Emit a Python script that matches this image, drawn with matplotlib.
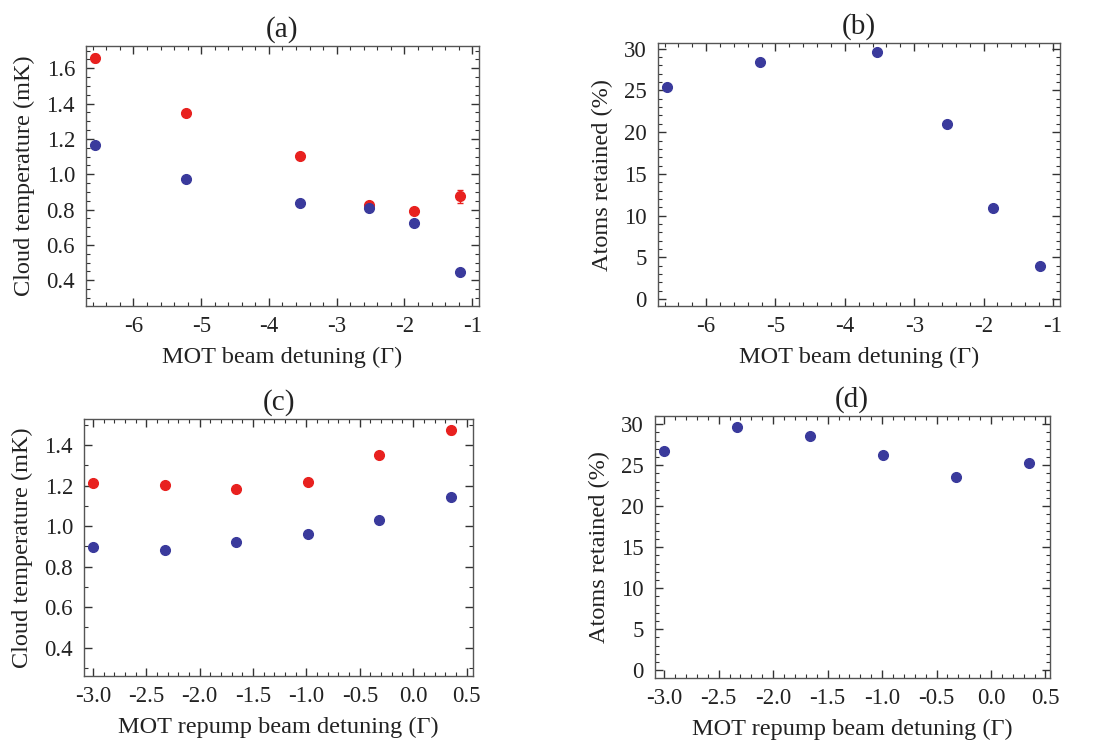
import numpy as np
import matplotlib
matplotlib.use("Agg")
from matplotlib import pyplot as plt
from matplotlib.ticker import MultipleLocator

plt.rcParams['font.family'] = ['Liberation Serif', 'DejaVu Serif']
plt.rcParams['axes.unicode_minus'] = False

# MOT beam detuning scan (a), (b)
det_mot = [-6.57, -5.22, -3.54, -2.53, -1.86, -1.18]
temp_red_a = [1.660, 1.348, 1.105, 0.827, 0.793, 0.874]
err_red_a = [0.022, 0.010, 0.008, 0.012, 0.008, 0.035]
temp_blue_a = [1.165, 0.971, 0.836, 0.808, 0.725, 0.449]
err_blue_a = [0.014, 0.008, 0.008, 0.010, 0.008, 0.014]
retained_b = [25.45, 28.4, 29.64, 20.98, 10.9, 3.98]

# MOT repump beam detuning scan (c), (d)
det_rep = [-3.0, -2.33, -1.66, -0.99, -0.32, 0.35]
temp_red_c = [1.212, 1.202, 1.184, 1.220, 1.351, 1.473]
err_red_c = [0.008, 0.008, 0.010, 0.008, 0.014, 0.018]
temp_blue_c = [0.897, 0.882, 0.922, 0.961, 1.032, 1.143]
err_blue_c = [0.006, 0.006, 0.006, 0.006, 0.008, 0.010]
retained_d = [26.7, 29.7, 28.6, 26.3, 23.6, 25.3]

red = '#e8211f'
blue = '#3a3a9c'
ms = 7

fig = plt.figure(figsize=(10.96, 7.43), dpi=100)
ax_a = fig.add_axes([0.0785, 0.588, 0.3585, 0.350])
ax_b = fig.add_axes([0.600, 0.588, 0.367, 0.354])
ax_c = fig.add_axes([0.0767, 0.0902, 0.355, 0.346])
ax_d = fig.add_axes([0.5976, 0.0875, 0.360, 0.3526])

fmt1 = plt.FuncFormatter(lambda v, p: f'{v:.1f}')


def style(ax, xmaj, xmin, ymaj, ymin):
    for s in ax.spines.values():
        s.set_color('#555555')
        s.set_linewidth(1.0)
    ax.xaxis.set_major_locator(MultipleLocator(xmaj))
    ax.xaxis.set_minor_locator(MultipleLocator(xmin))
    ax.yaxis.set_major_locator(MultipleLocator(ymaj))
    ax.yaxis.set_minor_locator(MultipleLocator(ymin))
    ax.tick_params(which='both', direction='in', top=True, right=True,
                   color='#333333', labelsize=16.5, labelcolor='#222222')
    ax.tick_params(axis='y', pad=8)
    ax.tick_params(axis='x', pad=7)
    ax.tick_params(which='major', length=6, width=1.0)
    ax.tick_params(which='minor', length=3, width=0.8)


def labels(ax, xl, yl, title):
    ax.set_xlabel(xl, fontsize=17.5, labelpad=7, color='#222222')
    ax.set_ylabel(yl, fontsize=17.5, labelpad=8, color='#222222')
    ax.set_title(title, fontsize=21, pad=7, color='#222222')


# (a)
ax_a.errorbar(det_mot, temp_red_a, yerr=err_red_a, fmt='o', color=red, ms=ms,
              elinewidth=1, capsize=2)
ax_a.errorbar(det_mot, temp_blue_a, yerr=err_blue_a, fmt='o', color=blue, ms=ms,
              elinewidth=1, capsize=2)
ax_a.set_xlim(-6.70, -0.90)
ax_a.set_ylim(0.253, 1.726)
style(ax_a, 1, 0.2, 0.2, 0.05)
ax_a.yaxis.set_major_formatter(fmt1)
labels(ax_a, 'MOT beam detuning (Γ)', 'Cloud temperature (mK)', '(a)')

# (b)
ax_b.plot(det_mot, retained_b, 'o', color=blue, ms=ms)
ax_b.set_xlim(-6.70, -0.90)
ax_b.set_ylim(-0.84, 30.67)
style(ax_b, 1, 0.2, 5, 1)
labels(ax_b, 'MOT beam detuning (Γ)', 'Atoms retained (%)', '(b)')

# (c)
ax_c.errorbar(det_rep, temp_red_c, yerr=err_red_c, fmt='o', color=red, ms=ms,
              elinewidth=1, capsize=2)
ax_c.errorbar(det_rep, temp_blue_c, yerr=err_blue_c, fmt='o', color=blue, ms=ms,
              elinewidth=1, capsize=2)
ax_c.set_xlim(-3.084, 0.562)
ax_c.set_ylim(0.26, 1.529)
style(ax_c, 0.5, 0.1, 0.2, 0.1)
ax_c.xaxis.set_major_formatter(fmt1)
ax_c.yaxis.set_major_formatter(fmt1)
labels(ax_c, 'MOT repump beam detuning (Γ)', 'Cloud temperature (mK)', '(c)')

# (d)
ax_d.plot(det_rep, retained_d, 'o', color=blue, ms=ms)
ax_d.set_xlim(-3.085, 0.537)
ax_d.set_ylim(-0.94, 31.0)
style(ax_d, 0.5, 0.1, 5, 1)
ax_d.xaxis.set_major_formatter(fmt1)
labels(ax_d, 'MOT repump beam detuning (Γ)', 'Atoms retained (%)', '(d)')

fig.savefig('out.png', dpi=100)
